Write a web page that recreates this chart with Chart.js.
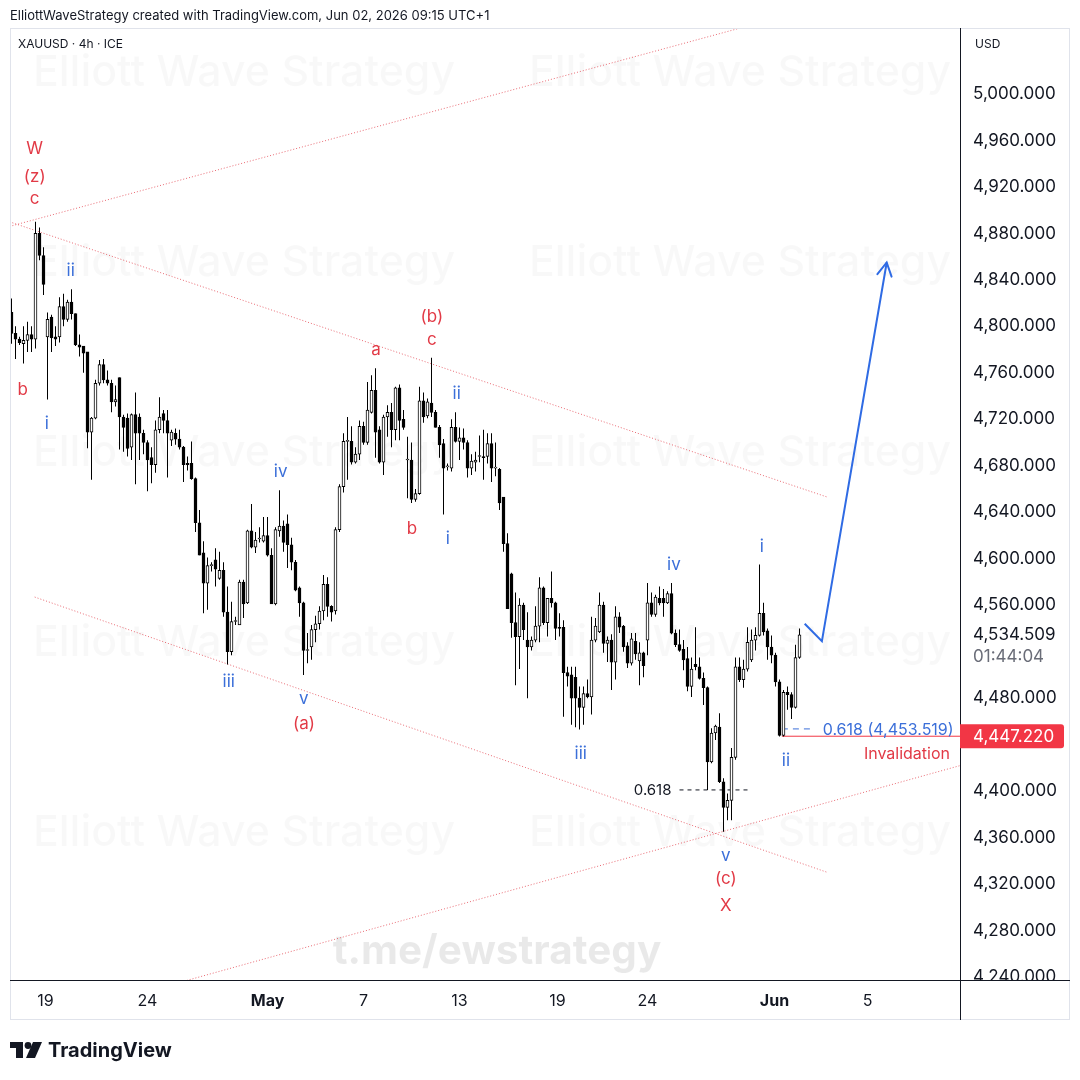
<!DOCTYPE html>
<html lang="en">
<head>
<meta charset="UTF-8">
<title>XAUUSD 4h</title>
<style>
  html, body { margin: 0; padding: 0; background: #ffffff; }
  #wrap { width: 1080px; height: 1080px; }
</style>
</head>
<body>
<div id="wrap"><canvas id="chart" width="1080" height="1080"></canvas></div>
<script src="https://cdn.jsdelivr.net/npm/chart.js"></script>
<script>
const FONT = 'Inter, "Noto Sans", sans-serif';
const RED = '#e23a46';
const BLUE = '#3b6fd9';

// 4h candles (index 0 = first bar on the left)
const opens = [
  4812,4794,4789,4785,4788,4793,4789,4880,4861,4791,
  4808,4791,4791,4817,4806,4821,4811,4784,4783,4778,
  4709,4721,4751,4767,4754,4751,4735,4756,4722,4721,
  4696,4724,4722,4708,4700,4687,4681,4711,4725,4719,
  4702,4708,4703,4696,4682,4682,4669,4631,4605,4579,
  4594,4599,4583,4590,4554,4520,4546,4543,4580,4562,
  4624,4610,4617,4615,4620,4603,4561,4624,4628,4630,
  4612,4597,4575,4562,4521,4524,4539,4544,4555,4578,
  4559,4555,4625,4662,4701,4701,4683,4690,4714,4700,
  4726,4745,4711,4683,4722,4726,4711,4747,4720,4685,
  4685,4651,4656,4736,4723,4734,4726,4713,4699,4679,
  4678,4713,4701,4704,4700,4678,4683,4688,4688,4688,
  4699,4678,4677,4653,4613,4587,4545,4533,4560,4530,
  4524,4530,4542,4575,4545,4566,4562,4541,4541,4502,
  4500,4498,4480,4472,4484,4481,4530,4537,4560,4527,
  4530,4511,4550,4542,4525,4510,4529,4512,4519,4530,
  4562,4552,4566,4566,4562,4570,4536,4526,4522,4514,
  4490,4509,4507,4497,4489,4425,4450,4455,4408,4386,
  4392,4429,4507,4496,4505,4513,4530,4534,4553,4538,
  4524,4517,4494,4448,4485,4483,4472,4515
];
const highs = [
  4824,4800,4791,4800,4804,4800,4890,4885,4868,4812,
  4810,4800,4825,4828,4823,4832,4811,4793,4783,4778,
  4722,4754,4771,4772,4762,4754,4749,4756,4724,4725,
  4725,4743,4725,4711,4702,4696,4719,4739,4728,4728,
  4711,4712,4711,4697,4688,4701,4670,4642,4615,4601,
  4597,4609,4606,4597,4576,4563,4550,4582,4582,4625,
  4647,4623,4627,4636,4636,4609,4627,4659,4633,4638,
  4618,4599,4576,4563,4536,4543,4551,4559,4586,4584,
  4560,4627,4664,4708,4722,4714,4696,4719,4718,4752,
  4758,4764,4714,4724,4732,4734,4748,4750,4728,4705,
  4700,4660,4748,4743,4738,4773,4728,4715,4703,4682,
  4720,4726,4713,4712,4702,4690,4692,4706,4711,4708,
  4708,4700,4678,4653,4622,4588,4571,4566,4562,4554,
  4533,4559,4584,4576,4566,4589,4563,4553,4547,4507,
  4507,4507,4490,4490,4496,4550,4549,4571,4563,4533,
  4535,4559,4554,4543,4528,4536,4536,4528,4520,4579,
  4571,4569,4576,4574,4572,4579,4539,4539,4530,4524,
  4515,4541,4515,4502,4490,4454,4457,4467,4411,4398,
  4437,4515,4515,4513,4541,4539,4541,4595,4562,4540,
  4534,4519,4496,4487,4490,4485,4526,4540
];
const lows = [
  4785,4772,4784,4768,4778,4778,4781,4857,4827,4737,
  4778,4783,4786,4800,4804,4806,4783,4774,4760,4695,
  4668,4720,4749,4751,4749,4726,4731,4694,4692,4688,
  4685,4664,4685,4690,4658,4665,4674,4708,4708,4670,
  4697,4698,4694,4666,4676,4668,4623,4603,4553,4556,
  4589,4576,4582,4550,4509,4517,4543,4543,4549,4561,
  4609,4605,4614,4614,4602,4561,4560,4619,4606,4592,
  4590,4572,4550,4500,4510,4513,4528,4539,4547,4550,
  4546,4552,4623,4657,4668,4681,4682,4685,4698,4698,
  4725,4687,4682,4672,4705,4696,4702,4702,4711,4652,
  4648,4649,4655,4717,4721,4722,4713,4687,4638,4676,
  4675,4700,4685,4694,4670,4672,4675,4683,4668,4682,
  4666,4671,4642,4606,4557,4532,4491,4505,4530,4480,
  4521,4528,4528,4543,4533,4558,4530,4533,4464,4490,
  4457,4455,4453,4457,4480,4466,4528,4536,4519,4511,
  4487,4496,4536,4520,4506,4508,4513,4491,4498,4517,
  4550,4550,4560,4550,4561,4535,4524,4520,4504,4486,
  4481,4504,4496,4474,4401,4424,4444,4407,4365,4375,
  4375,4427,4494,4489,4503,4511,4521,4533,4534,4513,
  4510,4490,4447,4447,4470,4462,4471,4514
];
const closes = [
  4794,4789,4786,4788,4793,4789,4880,4861,4836,4806,
  4790,4789,4817,4806,4821,4811,4784,4782,4777,4709,
  4721,4751,4767,4754,4751,4735,4737,4722,4713,4695,
  4724,4708,4708,4700,4685,4681,4711,4722,4719,4708,
  4709,4703,4696,4681,4681,4669,4631,4603,4579,4594,
  4594,4591,4590,4554,4520,4546,4546,4580,4561,4624,
  4610,4616,4617,4620,4603,4561,4625,4628,4614,4612,
  4597,4573,4562,4521,4521,4539,4544,4555,4578,4559,
  4554,4625,4662,4701,4701,4683,4690,4714,4700,4728,
  4745,4709,4683,4722,4726,4711,4747,4719,4713,4685,
  4651,4656,4736,4722,4735,4726,4713,4698,4678,4679,
  4713,4701,4704,4700,4678,4684,4685,4688,4687,4699,
  4678,4678,4648,4613,4557,4545,4533,4560,4539,4524,
  4530,4542,4575,4545,4566,4562,4540,4540,4502,4499,
  4480,4480,4472,4484,4481,4530,4542,4560,4527,4530,
  4511,4550,4541,4524,4510,4531,4518,4519,4508,4562,
  4552,4567,4562,4562,4570,4536,4526,4521,4513,4490,
  4505,4507,4497,4489,4425,4450,4456,4408,4386,4392,
  4429,4507,4496,4505,4528,4530,4534,4553,4537,4524,
  4517,4494,4448,4485,4483,4472,4515,4534.509
];

// time axis labels (bar index where each day starts)
const dayTicks = [8.5, 34, 64, 88, 112, 136.5, 159, 190.75, 214];
const dayLabels = ['19', '24', 'May', '7', '13', '19', '24', 'Jun', '5'];
const priceTicks = [5000, 4960, 4920, 4880, 4840, 4800, 4760, 4720, 4680, 4640, 4600, 4560, 4480, 4400, 4360, 4320, 4280, 4240];

// drawn trend lines [bar index, price]
const riseTop = [{ x: -0.5, y: 4886 }, { x: 237, y: 5108 }];
const channelTop = [{ x: -0.5, y: 4890 }, { x: 204, y: 4653 }];
const channelBottom = [{ x: 5.8, y: 4567 }, { x: 204, y: 4330 }];
const riseBottom = [{ x: 43.8, y: 4237 }, { x: 237.2, y: 4422 }];
const projection = [{ x: 198.3, y: 4544 }, { x: 202.6, y: 4529 }, { x: 218.8, y: 4855 }];
const fibLow = [{ x: 167, y: 4401 }, { x: 185, y: 4401 }];
const fibRetrace = [{ x: 192.6, y: 4453.519 }, { x: 200.8, y: 4453.519 }];
const invalidation = [{ x: 192.6, y: 4447.22 }, { x: 237.2, y: 4447.22 }];
const lastPrice = 4534.509;
const countdown = '01:44:04';

// wave labels
const redText = ['W', '(z)', 'c', 'b', 'a', '(b)', 'c', 'b', '(a)', '(c)', 'X'];
const redAt = [5.8, 5.8, 5.8, 2.8, 91.1, 105.1, 105.1, 100.1, 73.1, 178.6, 178.6];
const redPrice = [4953, 4929, 4910, 4745, 4780, 4808, 4788, 4626, 4458, 4324, 4301];
const blueText = ['ii', 'i', 'iv', 'iii', 'v', 'ii', 'i', 'iii', 'iv', 'i', 'v', 'ii'];
const blueAt = [14.8, 8.8, 67.3, 54.3, 73.1, 111.3, 109.1, 142.3, 165.6, 187.6, 178.6, 193.6];
const bluePrice = [4848, 4716, 4675, 4494, 4479, 4742, 4617, 4432, 4595, 4610, 4344, 4426];

const fmt = v => v.toLocaleString('en-US', { minimumFractionDigits: 3, maximumFractionDigits: 3 });

const wicks = highs.map((h, i) => ({ x: i, y: [lows[i], h] }));
const bodies = opens.map((o, i) => ({ x: i, y: [o, closes[i]] }));
const bodyFill = opens.map((o, i) => closes[i] >= o ? '#ffffff' : '#000000');

function trend(data, color, dash, width, order) {
  return {
    type: 'line', data: data, borderColor: color, borderWidth: width || 1,
    borderDash: dash || [], pointRadius: 0, tension: 0, order: order || 3
  };
}

// set a font so the text comes out at the wanted width
function fitFont(c, text, weight, width) {
  c.font = weight + ' 40px ' + FONT;
  const size = 40 * width / c.measureText(text).width;
  c.font = weight + ' ' + size.toFixed(1) + 'px ' + FONT;
}

const overlay = {
  id: 'overlay',
  beforeDatasetsDraw(chart) {
    const c = chart.ctx, a = chart.chartArea;
    c.save();
    c.beginPath();
    c.rect(a.left, a.top, a.right - a.left, a.bottom - a.top);
    c.clip();
    c.textAlign = 'center';
    c.textBaseline = 'middle';
    c.fillStyle = 'rgba(0,0,0,0.028)';
    fitFont(c, 'Elliott Wave Strategy', '500', 422);
    [73, 263, 453, 643, 833].forEach(y => {
      c.fillText('Elliott Wave Strategy', 244, y);
      c.fillText('Elliott Wave Strategy', 740, y);
    });
    c.fillStyle = 'rgba(0,0,0,0.085)';
    fitFont(c, 't.me/ewstrategy', 'bold', 329);
    c.fillText('t.me/ewstrategy', 497, 952);
    c.restore();
  },
  afterDatasetsDraw(chart) {
    const c = chart.ctx, xs = chart.scales.x, ys = chart.scales.y;
    c.save();
    c.textAlign = 'center';
    c.textBaseline = 'middle';
    c.font = '17px ' + FONT;
    c.fillStyle = RED;
    redText.forEach((t, i) => c.fillText(t, xs.getPixelForValue(redAt[i]), ys.getPixelForValue(redPrice[i])));
    c.fillStyle = BLUE;
    blueText.forEach((t, i) => c.fillText(t, xs.getPixelForValue(blueAt[i]), ys.getPixelForValue(bluePrice[i])));

    // fib texts
    c.font = '15px ' + FONT;
    c.textAlign = 'right';
    c.fillStyle = '#131722';
    c.fillText('0.618', xs.getPixelForValue(fibLow[0].x) - 8, ys.getPixelForValue(fibLow[0].y) + 1);
    c.textAlign = 'left';
    c.font = '16px ' + FONT;
    c.fillStyle = BLUE;
    c.fillText('0.618 (' + fmt(fibRetrace[0].y) + ')', xs.getPixelForValue(fibRetrace[1].x) + 8, ys.getPixelForValue(fibRetrace[0].y) + 1);
    c.textAlign = 'right';
    c.fillStyle = RED;
    c.fillText('Invalidation', chart.chartArea.right - 10, ys.getPixelForValue(invalidation[0].y) + 18);

    // arrow head
    const n = projection.length;
    const x1 = xs.getPixelForValue(projection[n - 2].x), y1 = ys.getPixelForValue(projection[n - 2].y);
    const x2 = xs.getPixelForValue(projection[n - 1].x), y2 = ys.getPixelForValue(projection[n - 1].y);
    const ang = Math.atan2(y2 - y1, x2 - x1);
    c.strokeStyle = '#2f6be4';
    c.lineWidth = 2;
    c.lineCap = 'round';
    c.beginPath();
    c.moveTo(x2 - 15 * Math.cos(ang - 0.5), y2 - 15 * Math.sin(ang - 0.5));
    c.lineTo(x2, y2);
    c.lineTo(x2 - 15 * Math.cos(ang + 0.5), y2 - 15 * Math.sin(ang + 0.5));
    c.stroke();
    c.restore();
  },
  afterDraw(chart) {
    const c = chart.ctx, a = chart.chartArea, ys = chart.scales.y;
    c.save();
    // cut the axis label that runs under the time axis
    c.fillStyle = '#ffffff';
    c.fillRect(a.right + 1, a.bottom + 1, 1070 - a.right - 1, 1019 - a.bottom);

    // pane frame and axis lines
    c.strokeStyle = '#e0e3eb';
    c.lineWidth = 1;
    c.strokeRect(10.5, 28.5, 1059, 991);
    c.strokeStyle = '#131722';
    c.beginPath();
    c.moveTo(a.right + 0.5, a.top);
    c.lineTo(a.right + 0.5, 1020);
    c.moveTo(a.left, a.bottom + 0.5);
    c.lineTo(1070, a.bottom + 0.5);
    c.stroke();

    // header texts
    c.textBaseline = 'middle';
    c.textAlign = 'left';
    c.fillStyle = '#131722';
    c.font = '13px ' + FONT;
    c.fillText('ElliottWaveStrategy created with TradingView.com, Jun 02, 2026 09:15 UTC+1', 10, 16);
    c.font = '12px ' + FONT;
    c.fillText('XAUUSD · 4h · ICE', 18, 44);
    c.fillText('USD', 975, 44);

    // price axis: last price and invalidation level
    c.font = '17px ' + FONT;
    const yl = ys.getPixelForValue(lastPrice);
    c.fillText(fmt(lastPrice), a.right + 13, yl);
    c.fillStyle = '#6a6d78';
    c.fillText(countdown, a.right + 13, yl + 22);
    const yi = ys.getPixelForValue(invalidation[0].y);
    c.fillStyle = '#f23645';
    c.beginPath();
    c.roundRect(a.right, yi - 12, 104, 24, [0, 3, 3, 0]);
    c.fill();
    c.fillStyle = '#ffffff';
    c.fillText(fmt(invalidation[0].y), a.right + 13, yi + 1);

    // TradingView logo
    c.fillStyle = '#131722';
    c.fillRect(10, 1042, 13, 6);
    c.fillRect(16, 1042, 7, 16);
    c.beginPath();
    c.arc(28, 1045.5, 3.4, 0, Math.PI * 2);
    c.fill();
    c.beginPath();
    c.moveTo(33, 1042);
    c.lineTo(42, 1042);
    c.lineTo(35, 1058);
    c.lineTo(26, 1058);
    c.closePath();
    c.fill();
    c.font = 'bold 20px ' + FONT;
    c.fillText('TradingView', 48, 1051);
    c.restore();
  }
};

const ctx = document.getElementById('chart').getContext('2d');
new Chart(ctx, {
  type: 'bar',
  data: {
    datasets: [
      {
        type: 'bar', data: bodies, backgroundColor: bodyFill, borderColor: '#000000',
        borderWidth: 1, borderSkipped: false, barThickness: 3, minBarLength: 1,
        grouped: false, order: 1
      },
      {
        type: 'bar', data: wicks, backgroundColor: '#000000', borderWidth: 0,
        barThickness: 1, inflateAmount: 0, grouped: false, order: 2
      },
      trend(riseTop, 'rgba(226,58,70,0.75)', [1, 2]),
      trend(channelTop, 'rgba(226,58,70,0.75)', [1, 2]),
      trend(channelBottom, 'rgba(226,58,70,0.75)', [1, 2]),
      trend(riseBottom, 'rgba(226,58,70,0.75)', [1, 2]),
      trend(fibLow, '#131722', [4, 4]),
      trend(fibRetrace, BLUE, [6, 5]),
      trend(invalidation, '#f23645', []),
      trend(projection, '#2f6be4', [], 2, 0)
    ]
  },
  options: {
    responsive: false,
    animation: false,
    layout: { padding: { left: 10, top: 28, right: 10, bottom: 60 } },
    plugins: { legend: { display: false }, tooltip: { enabled: false } },
    scales: {
      x: {
        type: 'linear', min: -0.375, max: 237.125, offset: false,
        grid: { display: false, drawTicks: false }, border: { display: false },
        afterBuildTicks: s => { s.ticks = dayTicks.map(v => ({ value: v })); },
        afterFit: s => { s.height = 40; },
        ticks: {
          autoSkip: false, maxRotation: 0, padding: 12, color: '#131722',
          font: c => ({ family: FONT, size: 16, weight: (dayLabels[c.index] === 'May' || dayLabels[c.index] === 'Jun') ? 'bold' : 'normal' }),
          callback: (v, i) => dayLabels[i]
        }
      },
      y: {
        type: 'linear', position: 'right', min: 4237.4, max: 5056.8,
        grid: { display: false, drawTicks: false }, border: { display: false },
        afterBuildTicks: s => { s.ticks = priceTicks.map(v => ({ value: v })); },
        afterFit: s => { s.width = 110; },
        ticks: { padding: 13, color: '#131722', font: { family: FONT, size: 17 }, callback: v => fmt(v) }
      }
    }
  },
  plugins: [overlay]
});
</script>
</body>
</html>
